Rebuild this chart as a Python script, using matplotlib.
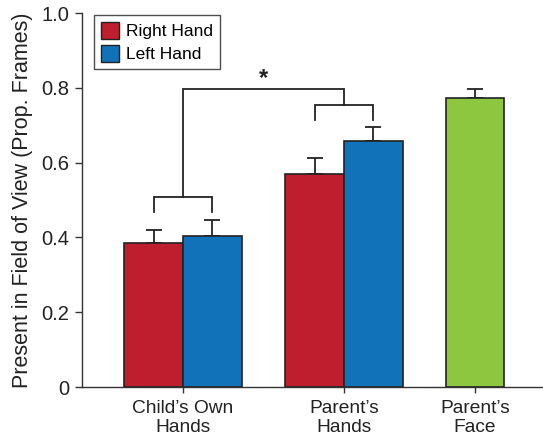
import matplotlib
matplotlib.use("Agg")
import matplotlib.pyplot as plt
from matplotlib.patches import Patch

plt.rcParams['font.family'] = ['Liberation Sans', 'DejaVu Sans']

categories = ["Child\u2019s Own\nHands", "Parent\u2019s\nHands", "Parent\u2019s\nFace"]
right_hand = [0.384, 0.570]
right_err = [0.037, 0.042]
left_hand = [0.405, 0.658]
left_err = [0.042, 0.038]
face = [0.772]
face_err = [0.026]
yticks = [0, 0.2, 0.4, 0.6, 0.8, 1.0]
ytick_labels = ["0", "0.2", "0.4", "0.6", "0.8", "1.0"]

RED = "#BE1E2D"
BLUE = "#1172BA"
GREEN = "#8DC63F"
EDGE = "#222222"

fig = plt.figure(figsize=(5.43, 4.37), dpi=100)
ax = fig.add_axes([0.151, 0.1144, 0.849, 0.8558])

centers = [0.0, 2.74, 4.97]
w = 1.0
ekw = dict(ecolor=EDGE, elinewidth=1.3, capsize=6, capthick=1.3)

rx = [centers[0] - w/2, centers[1] - w/2]
lx = [centers[0] + w/2, centers[1] + w/2]
ax.bar(rx, right_hand, w, color=RED, edgecolor=EDGE, linewidth=1.2, zorder=2)
ax.bar(lx, left_hand, w, color=BLUE, edgecolor=EDGE, linewidth=1.2, zorder=2)
ax.bar([centers[2]], face, w, color=GREEN, edgecolor=EDGE, linewidth=1.2, zorder=2)
ax.errorbar(rx, right_hand, yerr=[[0, 0], right_err], fmt='none', zorder=1, **ekw)
ax.errorbar(lx, left_hand, yerr=[[0, 0], left_err], fmt='none', zorder=1, **ekw)
ax.errorbar([centers[2]], face, yerr=[[0], face_err], fmt='none', zorder=1, **ekw)

# significance brackets
lk = dict(color=EDGE, linewidth=1.3, solid_joinstyle='miter')
ax.plot([rx[0], rx[0], lx[0], lx[0]], [0.469, 0.508, 0.508, 0.469], **lk)
ax.plot([rx[1], rx[1], lx[1], lx[1]], [0.714, 0.755, 0.755, 0.714], **lk)
ax.plot([centers[0], centers[0], centers[1], centers[1]], [0.508, 0.798, 0.798, 0.755], **lk)
ax.text((centers[0] + centers[1]) / 2, 0.826, "*", ha='center', va='center',
        fontsize=17, fontweight='bold', color=EDGE)

ax.set_xlim(-1.72, 6.13)
ax.set_ylim(0, 1.0)
ax.set_yticks(yticks)
ax.set_yticklabels(ytick_labels)
ax.set_xticks(centers)
ax.set_xticklabels(categories)
for s in ['top', 'right']:
    ax.spines[s].set_visible(False)
for s in ['left', 'bottom']:
    ax.spines[s].set_color('#333333')
    ax.spines[s].set_linewidth(1.0)
ax.tick_params(axis='y', direction='out', length=5, width=1, colors='#333333', labelsize=14.5, labelcolor='#222222', pad=4)
ax.tick_params(axis='x', direction='out', length=4, width=1, colors='#333333', labelsize=13.8, labelcolor='#222222', pad=5)
ax.set_ylabel("Present in Field of View (Prop. Frames)", fontsize=15.5, color='#222222', labelpad=6)

handles = [Patch(facecolor=RED, edgecolor=EDGE, label="Right Hand"),
           Patch(facecolor=BLUE, edgecolor=EDGE, label="Left Hand")]
leg = ax.legend(handles=handles, loc='upper left', bbox_to_anchor=(0.026, 0.995),
                fontsize=12.5, frameon=True, fancybox=False, edgecolor=EDGE,
                handlelength=1.05, handleheight=1.1, handletextpad=0.4,
                borderpad=0.4, labelspacing=0.35, borderaxespad=0)
leg.get_frame().set_linewidth(1.0)

fig.savefig("out.png", dpi=100)
